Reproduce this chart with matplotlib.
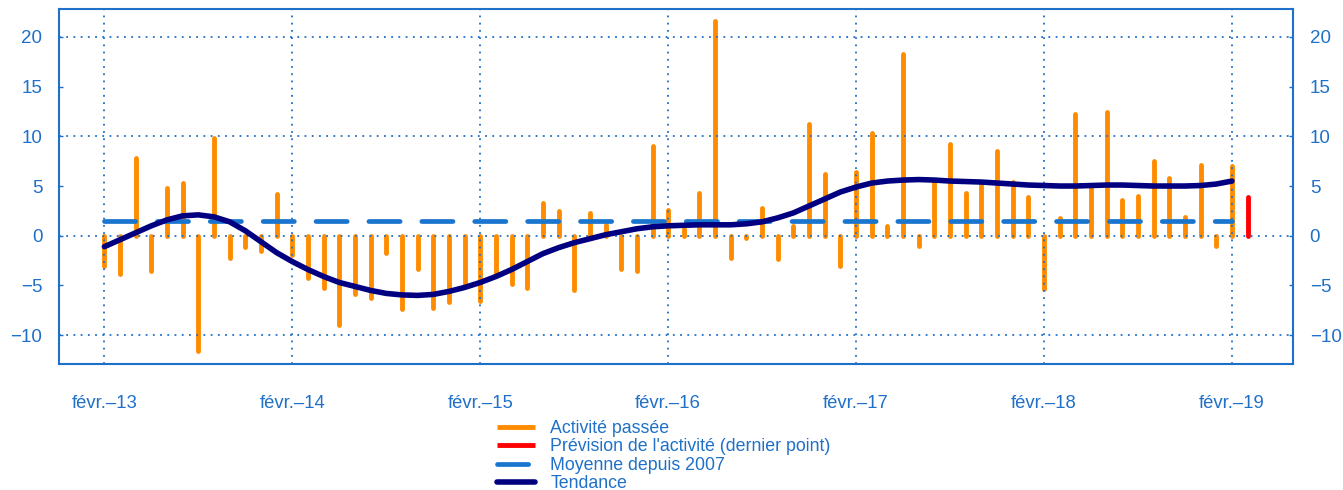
import numpy as np
from matplotlib import pyplot as plt

plt.rcParams['font.family'] = ['Liberation Sans', 'DejaVu Sans']

# monthly values, févr.-13 .. févr.-19
activite = [-3.0, -3.8, 7.8, -3.5, 4.8, 5.3, -11.6, 9.8, -2.2, -1.1,
            -1.5, 4.2, -1.9, -4.2, -5.3, -9.0, -5.9, -6.3, -1.7, -7.4,
            -3.3, -7.3, -6.7, -4.9, -6.6, -4.0, -4.9, -5.3, 3.3, 2.5,
            -5.5, 2.3, 1.1, -3.3, -3.5, 9.0, 2.6, 0.7, 4.3, 21.6,
            -2.2, -0.2, 2.8, -2.3, 1.0, 11.2, 6.2, -3.0, 6.4, 10.3,
            1.0, 18.3, -1.0, 5.4, 9.2, 4.3, 5.1, 8.5, 5.4, 3.9,
            -5.4, 1.8, 12.2, 4.9, 12.4, 3.6, 4.0, 7.5, 5.8, 1.9,
            7.1, -1.0, 7.0]
tendance = [-1.1, -0.4, 0.3, 1.0, 1.6, 2.0, 2.1, 1.9, 1.4, 0.5,
            -0.6, -1.7, -2.6, -3.4, -4.1, -4.7, -5.1, -5.5, -5.8, -5.95,
            -6.0, -5.9, -5.6, -5.2, -4.7, -4.1, -3.4, -2.6, -1.8, -1.2,
            -0.7, -0.3, 0.1, 0.4, 0.7, 0.9, 1.0, 1.05, 1.1, 1.1,
            1.1, 1.2, 1.4, 1.8, 2.3, 3.0, 3.7, 4.4, 4.9, 5.3,
            5.5, 5.6, 5.65, 5.6, 5.5, 5.45, 5.4, 5.3, 5.2, 5.1,
            5.05, 5.0, 5.0, 5.05, 5.1, 5.1, 5.05, 5.0, 5.0, 5.0,
            5.05, 5.2, 5.5]
prevision = 3.9
moyenne = 1.5
tick_pos = [0, 12, 24, 36, 48, 60, 72]
tick_labels = ["févr.–13", "févr.–14", "févr.–15", "févr.–16", "févr.–17", "févr.–18", "févr.–19"]
y_ticks = [-10, -5, 0, 5, 10, 15, 20]
y_grid = [-10, 0, 10, 20]

blue = '#1f70c8'
x = np.arange(len(activite))

fig = plt.figure(figsize=(13.43, 4.9), dpi=100)
ax = fig.add_axes([0.0439, 0.2571, 0.9189, 0.7245])

ax.vlines(x, 0, activite, colors='#ff8c00', linewidth=3.5, capstyle='round', zorder=2, label="Activité passée")
ax.vlines([len(activite)], 0, [prevision], colors='#ff0000', linewidth=3.5, capstyle='round', zorder=2,
          label="Prévision de l'activité (dernier point)")

for g in y_grid:
    ax.axhline(g, color=blue, lw=1.3, ls=(0, (1, 3)), zorder=3)
for t in tick_pos:
    ax.axvline(t, color=blue, lw=1.3, ls=(0, (1, 3)), zorder=3)

ax.plot([x[0], x[-1]], [moyenne, moyenne], color='#1a75cf', lw=3.4, ls=(0, (6.6, 4.6)),
        dash_capstyle='round', zorder=4, label="Moyenne depuis 2007")
ax.plot(x, tendance, color='#000080', lw=4.0, solid_capstyle='round', zorder=5, label="Tendance")

ax.set_xlim(-2.9, 75.9)
ax.set_ylim(-12.9, 22.8)
ax.set_xticks(tick_pos)
ax.set_xticklabels(tick_labels)
ax.set_yticks(y_ticks)
ax.tick_params(axis='x', length=0, pad=22, labelsize=13.3, labelcolor=blue)
ax.tick_params(axis='y', left=True, right=True, labelleft=True, labelright=True,
               direction='in', length=3, width=1, color=blue, pad=12, labelsize=13.5, labelcolor=blue)
ax.set_yticklabels([str(v).replace('-', '−') for v in y_ticks])
for s in ax.spines.values():
    s.set_color(blue)
    s.set_linewidth(1.5)

leg = fig.legend(loc='upper left', bbox_to_anchor=(497 / 1343, 1 - 420 / 490), frameon=False,
                 fontsize=12.8, labelspacing=0.08, handlelength=2.15, handletextpad=0.85,
                 borderpad=0, borderaxespad=0)
for txt in leg.get_texts():
    txt.set_color(blue)

fig.savefig("out.png", dpi=100)
